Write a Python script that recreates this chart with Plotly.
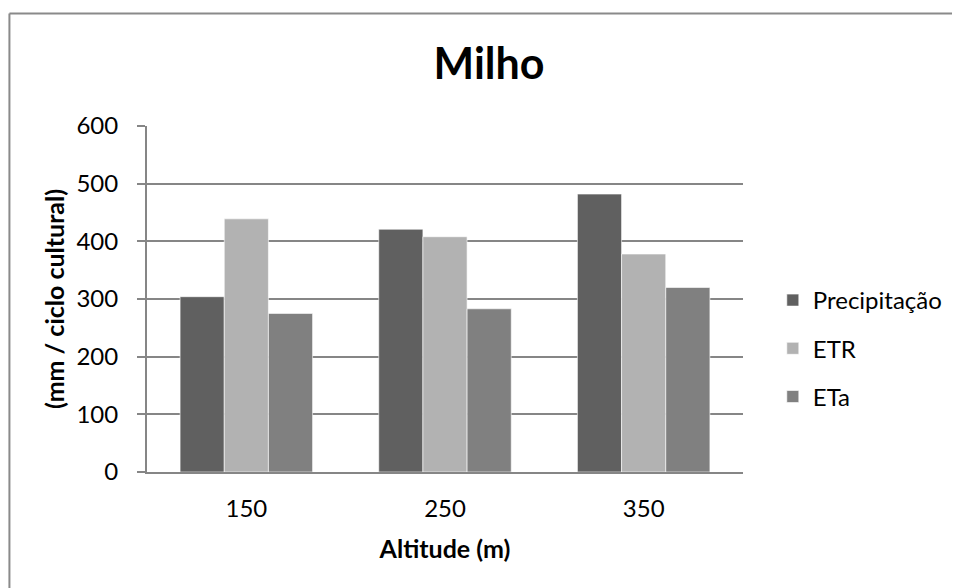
import plotly.graph_objects as go

categories = ["150", "250", "350"]
precipitacao = [304, 421, 482]
etr = [439, 408, 378]
eta = [275, 283, 320]
y_ticks = [0, 100, 200, 300, 400, 500, 600]

FONT = "Lato"
GRAY = "#868686"

fig = go.Figure()
for name, vals, col, grp in [
    ("Precipitação", precipitacao, "#606060", "a"),
    ("ETR", etr, "#b2b2b2", "b"),
    ("ETa", eta, "#808080", "c"),
]:
    fig.add_trace(go.Bar(x=categories, y=vals, name=name, legendgroup=grp,
                         marker=dict(color=col, line=dict(color="#ffffff", width=0.6))))

# page offset from the default body margin
OFF = 8
W, H = 960 - OFF, 588 - OFF
# plot area in page coordinates: x 147..747, y 126..472
L, R, T, B = 147 - OFF, 960 - 747, 126 - OFF, 588 - 472
PW, PH = W - L - R, H - T - B


def px_x(x):  # page x -> paper
    return (x - OFF - L) / PW


def px_y(y):  # page y -> paper
    return (H - B - (y - OFF)) / PH


fig.update_layout(
    width=W, height=H,
    margin=dict(l=L, r=R, t=T, b=B, pad=0),
    paper_bgcolor="white", plot_bgcolor="white",
    barmode="group", bargap=0.333, bargroupgap=0,
    font=dict(family=FONT, size=24, color="#000000"),
    title=dict(text="<b>Milho</b>", x=(489 - OFF) / W, xanchor="center",
               xref="container", yref="container",
               y=1 - (64 - OFF) / H, yanchor="middle",
               font=dict(family=FONT, size=43, color="#000000")),
    legend=dict(x=px_x(777), xanchor="left", y=px_y(278), yanchor="top",
                tracegroupgap=14, font=dict(size=24), bgcolor="rgba(0,0,0,0)"),
    xaxis=dict(type="category", showline=True, linecolor=GRAY, linewidth=2,
               ticks="", ticklabelstandoff=14, showgrid=False,
               tickfont=dict(size=24),
               title=dict(text="<b>Altitude (m)</b>", standoff=20,
                          font=dict(size=25))),
    yaxis=dict(range=[0, 600], tickvals=y_ticks, showline=True, linecolor=GRAY,
               linewidth=2, ticks="outside", ticklen=8, tickcolor=GRAY, tickwidth=2,
               ticklabelstandoff=14, showgrid=True, gridcolor=GRAY, gridwidth=1.5,
               zeroline=False, tickfont=dict(size=24),
               title=dict(text="<b>(mm / ciclo cultural)</b>", standoff=5,
                          font=dict(size=25))),
    shapes=[
        dict(type="line", xref="paper", yref="paper", x0=px_x(8.5), x1=px_x(960),
             y0=px_y(13.5), y1=px_y(13.5), line=dict(color="#8a8a8a", width=2)),
        dict(type="line", xref="paper", yref="paper", x0=px_x(8.5), x1=px_x(8.5),
             y0=px_y(13.5), y1=px_y(588), line=dict(color="#8a8a8a", width=2)),
    ],
)

fig.write_html("out.html")
